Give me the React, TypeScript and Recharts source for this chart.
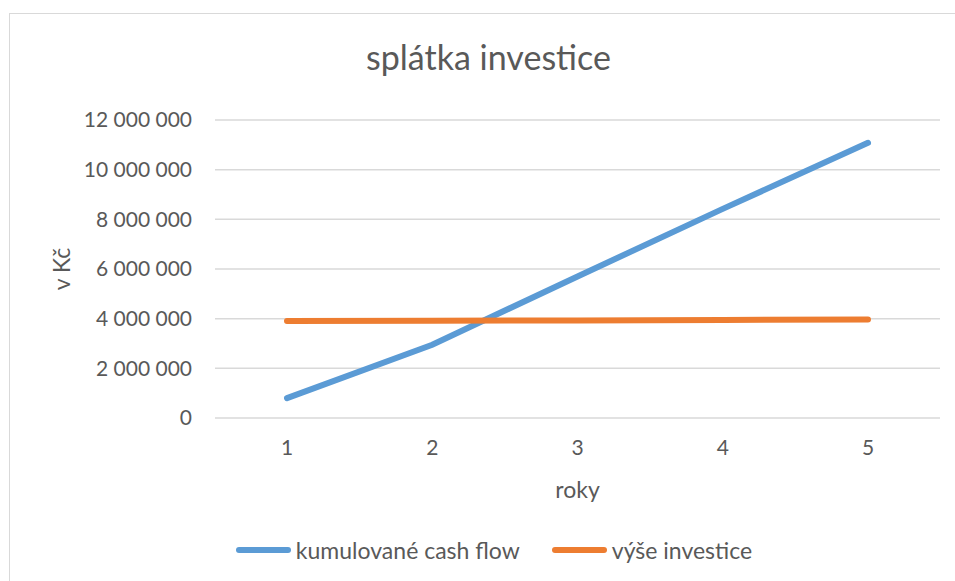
import React from "react";
import { CartesianGrid, Label, Legend, Line, LineChart, XAxis, YAxis } from "recharts";

const roky = ["1", "2", "3", "4", "5"];
const kumulovaneCashFlow = [800000, 2950000, 5700000, 8420000, 11080000];
const vyseInvestice = [3910000, 3920000, 3930000, 3950000, 3970000];
const yTicks = [0, 2000000, 4000000, 6000000, 8000000, 10000000, 12000000];

const seriesNames = {
  cf: "kumulované cash flow",
  inv: "výše investice",
};

const data = roky.map((rok, i) => ({
  rok,
  cf: kumulovaneCashFlow[i],
  inv: vyseInvestice[i],
}));

const FONT = "Lato, 'Open Sans', sans-serif";
const TEXT = "#595959";

// 12000000 -> "12 000 000"
const fmt = (v: number) => String(v).replace(/\B(?=(\d{3})+(?!\d))/g, " ");

function LegendContent({ payload }: any) {
  return (
    <div style={{ display: "flex", justifyContent: "center", alignItems: "center", height: 30, paddingLeft: 33, fontFamily: FONT, fontSize: 23, color: TEXT }}>
      {(payload || []).map((p: any, i: number) => (
        <div key={i} style={{ display: "flex", alignItems: "center", marginRight: i === 0 ? 32 : 0 }}>
          <span style={{ display: "inline-block", width: 55, height: 6, borderRadius: 3, background: p.color, marginRight: 5 }} />
          <span>{p.value}</span>
        </div>
      ))}
    </div>
  );
}

export default function App() {
  return (
    <div style={{ position: "fixed", left: 0, top: 0, width: 955, height: 581, overflow: "hidden", background: "#fff" }}>
      <style>{`html, body { overflow: hidden; margin: 0; }`}</style>
      <div style={{ position: "absolute", left: 9, top: 13, width: 946, height: 568, borderTop: "1.5px solid #d9d9d9", borderLeft: "1.5px solid #d9d9d9", boxSizing: "border-box" }} />
      <div style={{ position: "absolute", left: 0, top: 36, width: 955, paddingLeft: 22, boxSizing: "border-box", textAlign: "center", fontFamily: FONT, fontSize: 34, color: TEXT }}>
        splátka investice
      </div>
      <div style={{ position: "absolute", left: 0, top: 0 }}>
        <LineChart width={955} height={581} data={data} margin={{ top: 120, right: 15, bottom: 48, left: 55 }}>
          <CartesianGrid vertical={false} stroke="#d9d9d9" strokeWidth={1.5} />
          <XAxis
            dataKey="rok"
            type="category"
            padding={{ left: 72, right: 72 }}
            axisLine={false}
            tickLine={false}
            tickSize={0}
            tickMargin={22}
            height={85}
            tick={{ fill: TEXT, fontSize: 21, fontFamily: FONT }}
          >
            <Label value="roky" position="insideBottom" offset={5} fill={TEXT} fontSize={23} fontFamily={FONT} />
          </XAxis>
          <YAxis
            domain={[0, 12000000]}
            ticks={yTicks}
            tickFormatter={fmt}
            axisLine={false}
            tickLine={false}
            tickSize={0}
            tickMargin={23}
            width={160}
            tick={{ fill: TEXT, fontSize: 21, fontFamily: FONT }}
          >
            <Label value="v Kč" angle={-90} position="insideLeft" offset={7} fill={TEXT} fontSize={23} fontFamily={FONT} style={{ textAnchor: "middle" }} />
          </YAxis>
          <Legend
            verticalAlign="bottom"
            content={<LegendContent />}
            wrapperStyle={{ top: 535, bottom: "auto", left: 0, width: 955 }}
          />
          <Line type="linear" dataKey="cf" name={seriesNames.cf} stroke="#5B9BD5" strokeWidth={6} strokeLinecap="round" dot={false} isAnimationActive={false} />
          <Line type="linear" dataKey="inv" name={seriesNames.inv} stroke="#ED7D31" strokeWidth={6} strokeLinecap="round" dot={false} isAnimationActive={false} />
        </LineChart>
      </div>
    </div>
  );
}
